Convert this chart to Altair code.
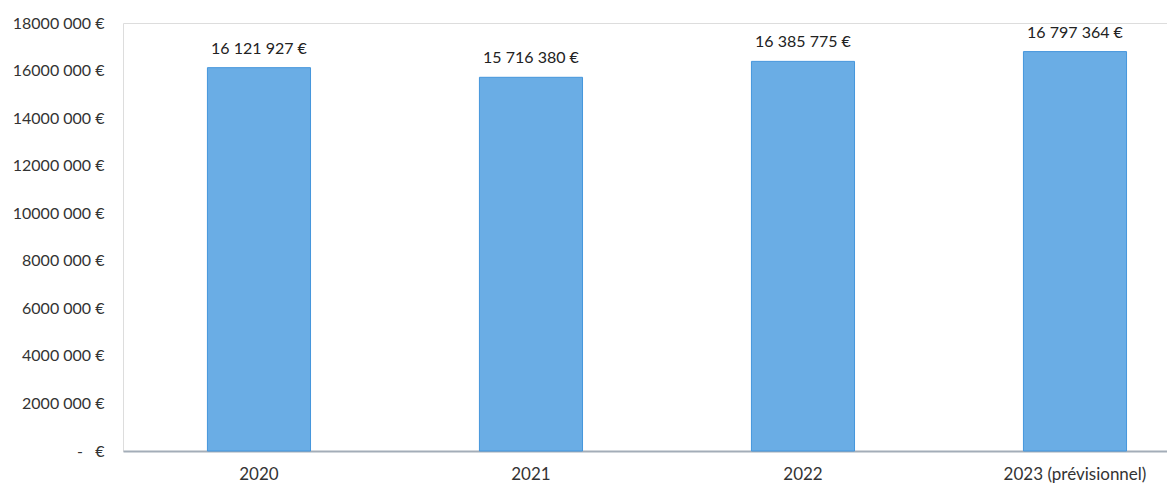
import altair as alt
import pandas as pd

years = ["2020", "2021", "2022", "2023 (prévisionnel)"]
values = [16121927, 15716380, 16385775, 16797364]
labels = [f"{v:,}".replace(",", "\u00a0") + "\u00a0€" for v in values]
y_ticks = [0, 2000000, 4000000, 6000000, 8000000, 10000000, 12000000, 14000000, 16000000, 18000000]

df = pd.DataFrame({"year": years, "value": values, "label": labels})

FONT = "Lato"

x = alt.X(
    "year:N",
    sort=years,
    title=None,
    scale=alt.Scale(paddingInner=0.621, paddingOuter=0.2296, align=0.676),
    axis=alt.Axis(
        labelAngle=0,
        ticks=False,
        labelPadding=15,
        labelFontSize=17,
        labelFont=FONT,
        labelColor="#333333",
        domainColor="#a3adb8",
        domainWidth=2,
    ),
)
y = alt.Y(
    "value:Q",
    title=None,
    scale=alt.Scale(domain=[0, 18000000], nice=False),
    axis=alt.Axis(
        values=y_ticks,
        grid=False,
        ticks=False,
        domain=False,
        labelPadding=19,
        labelFontSize=16,
        labelFont=FONT,
        labelColor="#333333",
        labelExpr="datum.value == 0 ? '-\u00a0\u00a0\u00a0€' : (datum.value / 1000) + '\u00a0000\u00a0€'",
    ),
)

base = alt.Chart(df)
bars = base.mark_bar(color="#6aade5", stroke="#4596dc", strokeWidth=1).encode(x=x, y=y)
text = base.mark_text(
    baseline="bottom", dy=-11, fontSize=16, font=FONT, color="#222222"
).encode(x=alt.X("year:N", sort=years), y="value:Q", text="label:N")

chart = (
    alt.layer(bars, text)
    .properties(
        width=1044,
        height=428,
        autosize=alt.AutoSizeParams(type="none"),
        padding={"left": 115, "top": 15, "right": 0, "bottom": 38},
    )
    .configure_view(strokeWidth=0)
    .configure(background="white")
)

chart.save("out.html", embed_options={"renderer": "svg", "actions": False})
